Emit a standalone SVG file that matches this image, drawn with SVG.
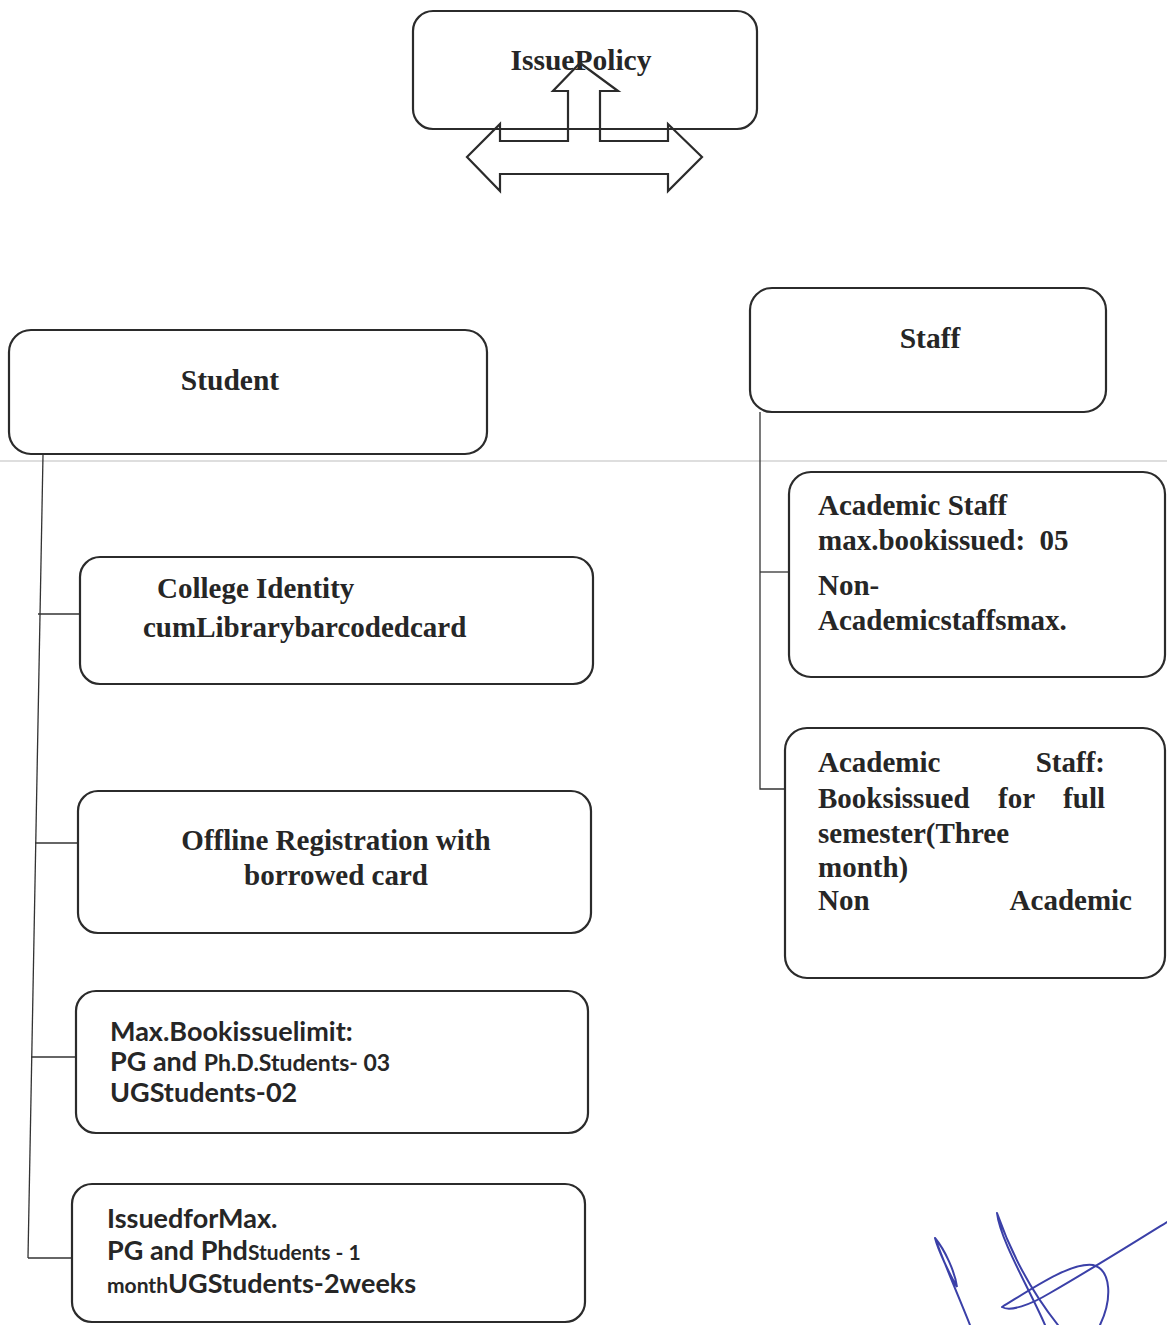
<svg xmlns="http://www.w3.org/2000/svg" width="1167" height="1325" viewBox="0 0 1167 1325">
<style>
.box{fill:none;stroke:#2b2b2b;stroke-width:2.2}
.conn{fill:none;stroke:#333;stroke-width:1.3}
.serif{font-family:"Liberation Serif","Times New Roman",serif;font-weight:bold;fill:#262626}
.sans{font-family:Lato,"Liberation Sans",sans-serif;font-weight:bold;fill:#262626}
.t28{font-size:29.5px}
.t27{font-size:29px}
.sig{fill:none;stroke:#3b40a8;stroke-width:2;stroke-linecap:round}
</style>
<rect width="1167" height="1325" fill="#fff"/>
<line x1="0" y1="461" x2="1167" y2="461" stroke="#dedede" stroke-width="2"/>

<g id="issuepolicy">
<rect class="box" x="413" y="11" width="344" height="118" rx="20"/>
<text class="serif t28" x="581" y="70" text-anchor="middle">IssuePolicy</text>
<path class="box" d="M580,63 L618,91 L600,91 L600,141 L668,141 L668,124 L702,157 L668,191 L668,174 L500,174 L500,191 L467,157 L500,124 L500,141 L568,141 L568,91 L553,91 Z"/>
</g>

<g id="connectors">
<polyline class="conn" points="43,455 28,1258"/>
<line class="conn" x1="38" y1="614" x2="80" y2="614"/>
<line class="conn" x1="35" y1="843" x2="78" y2="843"/>
<line class="conn" x1="31" y1="1057" x2="76" y2="1057"/>
<line class="conn" x1="28" y1="1258" x2="72" y2="1258"/>
<polyline class="conn" points="760,412 760,789 786,789"/>
<line class="conn" x1="760" y1="572" x2="790" y2="572"/>
</g>

<g id="student">
<rect class="box" x="9" y="330" width="478" height="124" rx="22"/>
<text class="serif t28" x="230" y="390" text-anchor="middle">Student</text>
</g>

<g id="staff">
<rect class="box" x="750" y="288" width="356" height="124" rx="22"/>
<text class="serif t28" x="930" y="348" text-anchor="middle">Staff</text>
</g>

<g id="college-identity">
<rect class="box" x="80" y="557" width="513" height="127" rx="20"/>
<text class="serif t27" x="157" y="598">College Identity</text>
<text class="serif t27" x="143" y="637">cumLibrarybarcodedcard</text>
</g>

<g id="offline-registration">
<rect class="box" x="78" y="791" width="513" height="142" rx="20"/>
<text class="serif t27" x="336" y="850" text-anchor="middle">Offline Registration with</text>
<text class="serif t27" x="336" y="885" text-anchor="middle">borrowed card</text>
</g>

<g id="max-book-issue">
<rect class="box" x="76" y="991" width="512" height="142" rx="20"/>
<text class="sans" font-size="27" x="110" y="1041">Max.Bookissuelimit:</text>
<text class="sans" x="110" y="1071"><tspan font-size="27">PG and </tspan><tspan font-size="23">Ph.D.Students- 03</tspan></text>
<text class="sans" font-size="27" x="110" y="1102">UGStudents-02</text>
</g>

<g id="issued-for">
<rect class="box" x="72" y="1184" width="513" height="138" rx="20"/>
<text class="sans" font-size="27" x="107" y="1228">IssuedforMax.</text>
<text class="sans" x="107" y="1260"><tspan font-size="27">PG and Phd</tspan><tspan font-size="21">Students - 1</tspan></text>
<text class="sans" x="107" y="1293"><tspan font-size="21">month</tspan><tspan font-size="27">UGStudents-2weeks</tspan></text>
</g>

<g id="academic-staff-max">
<rect class="box" x="789" y="472" width="376" height="205" rx="22"/>
<text class="serif t27" x="818" y="515">Academic Staff</text>
<text class="serif t27" x="818" y="550" xml:space="preserve">max.bookissued:  05</text>
<text class="serif t27" x="818" y="595">Non-</text>
<text class="serif t27" x="818" y="630">Academicstaffsmax.</text>
</g>

<g id="academic-staff-period">
<rect class="box" x="785" y="728" width="380" height="250" rx="22"/>
<text class="serif t27" x="818" y="772">Academic</text>
<text class="serif t27" x="1105" y="772" text-anchor="end">Staff:</text>
<text class="serif t27" x="818" y="808">Booksissued</text>
<text class="serif t27" x="998" y="808">for</text>
<text class="serif t27" x="1105" y="808" text-anchor="end">full</text>
<text class="serif t27" x="818" y="843">semester(Three</text>
<text class="serif t27" x="818" y="877">month)</text>
<text class="serif t27" x="818" y="910">Non</text>
<text class="serif t27" x="1132" y="910" text-anchor="end">Academic</text>
</g>

<g id="signature">
<path class="sig" d="M935,1238 C938,1250 950,1275 957,1287 C955,1272 945,1250 935,1238 C945,1265 960,1300 970,1325"/>
<path class="sig" d="M997,1213 C1010,1250 1030,1290 1058,1325 M997,1213 C1000,1240 1030,1290 1045,1325"/>
<path class="sig" d="M1002,1307 C1030,1290 1070,1262 1093,1265 C1112,1270 1112,1300 1100,1325 M1002,1307 C1010,1312 1030,1305 1050,1293 C1090,1270 1130,1245 1167,1222"/>
</g>
</svg>
